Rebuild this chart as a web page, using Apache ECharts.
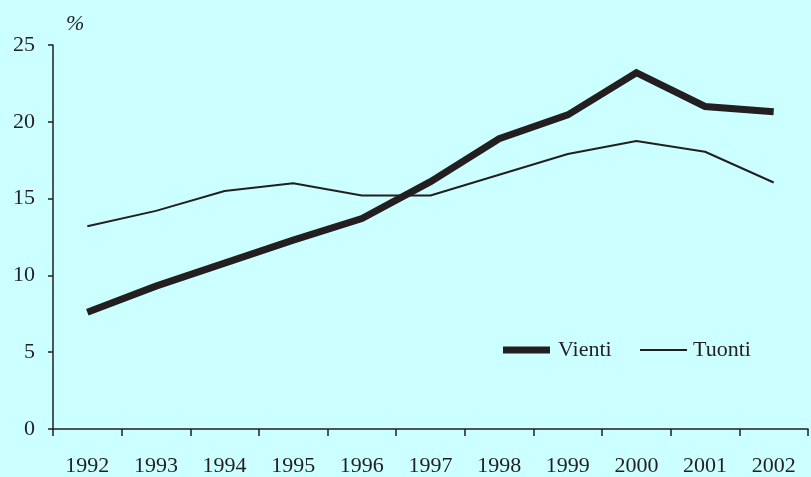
<!DOCTYPE html>
<html>
<head>
<meta charset="utf-8">
<script src="https://cdn.jsdelivr.net/npm/echarts@6/dist/echarts.min.js"></script>
<style>
html,body{margin:0;padding:0;background:#ccffff;}
#c{width:811px;height:477px;}
</style>
</head>
<body>
<div id="c"></div>
<script>
var years = ['1992','1993','1994','1995','1996','1997','1998','1999','2000','2001','2002'];
var vienti = [7.6, 9.3, 10.8, 12.3, 13.7, 16.1, 18.9, 20.45, 23.2, 21.0, 20.65];
var tuonti = [13.2, 14.2, 15.5, 16.0, 15.2, 15.2, 16.55, 17.9, 18.75, 18.05, 16.05];
var unitLabel = '%';

var ink = '#231f20';
var font = '"Liberation Serif","DejaVu Serif",serif';
var chart = echarts.init(document.getElementById('c'), null, {renderer:'canvas'});
chart.setOption({
  backgroundColor: '#ccffff',
  animation: false,
  grid: {left: 53, right: 3, top: 45, bottom: 47, containLabel: false},
  legend: [
    {data: ['Vienti'], left: 498, top: 334, icon: 'rect', itemWidth: 47, itemHeight: 7,
     itemGap: 0, textStyle: {fontFamily: font, fontSize: 22, color: ink, padding: [0,0,0,3]}},
    {data: ['Tuonti'], left: 635, top: 334, icon: 'rect', itemWidth: 47, itemHeight: 2,
     itemGap: 0, textStyle: {fontFamily: font, fontSize: 22, color: ink, padding: [0,0,0,1]}}
  ],
  graphic: [
    {type: 'text', left: 66, top: 13, style: {text: unitLabel, font: 'italic 22px ' + font, fill: ink}}
  ],
  xAxis: {
    type: 'category', data: years, boundaryGap: true,
    axisLine: {lineStyle: {color: ink, width: 1.5}},
    axisTick: {show: true, length: 7, lineStyle: {color: ink, width: 1.5}},
    axisLabel: {fontFamily: font, fontSize: 22, color: ink, margin: 26}
  },
  yAxis: {
    type: 'value', min: 0, max: 25, interval: 5,
    splitLine: {show: false},
    axisLine: {show: true, lineStyle: {color: ink, width: 1.5}},
    axisTick: {show: true, length: 5, lineStyle: {color: ink, width: 1.5}},
    axisLabel: {fontFamily: font, fontSize: 22, color: ink, margin: 18}
  },
  series: [
    {name: 'Vienti', type: 'line', data: vienti, symbol: 'none', color: ink,
     lineStyle: {width: 7, color: ink, join: 'miter'}},
    {name: 'Tuonti', type: 'line', data: tuonti, symbol: 'none', color: ink,
     lineStyle: {width: 2, color: ink}}
  ]
});
</script>
</body>
</html>
